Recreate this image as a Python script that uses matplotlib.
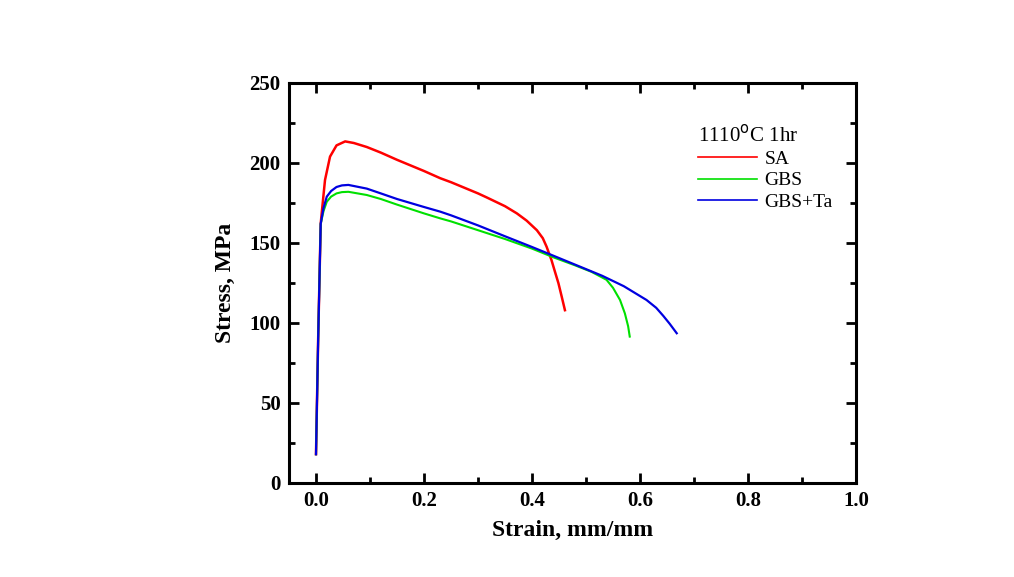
import numpy as np
import matplotlib.pyplot as plt
from matplotlib.ticker import MultipleLocator

# Stress-strain data
sa_strain = [0.0, 0.004, 0.0087, 0.0105, 0.0167, 0.026, 0.038, 0.054, 0.07, 0.094, 0.12,
             0.15, 0.2, 0.23, 0.25, 0.3, 0.316, 0.35, 0.372, 0.39, 0.409, 0.42, 0.427,
             0.436, 0.443, 0.449, 0.455, 0.461]
sa_stress = [18, 90, 162, 168.5, 189.4, 204, 211, 213.5, 212.5, 210, 206.5,
             202, 195, 190.5, 188, 181, 178.5, 173, 168.5, 164, 158, 153, 147.7,
             139.4, 131.5, 124.8, 116.5, 108]

gbs_strain = [0.0, 0.004, 0.0087, 0.014, 0.02, 0.028, 0.038, 0.048, 0.06, 0.094, 0.12, 0.15,
              0.2, 0.23, 0.25, 0.3, 0.35, 0.4, 0.44, 0.48, 0.51, 0.538, 0.55, 0.563,
              0.572, 0.578, 0.581]
gbs_stress = [18, 90, 162, 170, 175.8, 179, 181, 181.8, 182, 180, 177.5, 174,
              168.5, 165.4, 163.5, 158, 152.5, 146.5, 141, 136, 132, 127, 122, 114.4,
              106, 98, 91.5]

gbsta_strain = [0.0, 0.004, 0.0087, 0.014, 0.02, 0.028, 0.038, 0.048, 0.06, 0.094, 0.12, 0.15,
                0.2, 0.23, 0.25, 0.3, 0.35, 0.4, 0.44, 0.476, 0.489, 0.53, 0.57, 0.612,
                0.63, 0.643, 0.655, 0.668]
gbsta_stress = [18, 90, 162, 172, 179, 182.5, 185, 186, 186.3, 184, 181, 177.5,
                172.5, 169.6, 167.3, 161, 154.2, 147.5, 142, 137, 135.2, 129.5, 123, 114.4,
                109.5, 104.5, 99.5, 93.6]

legend_title = '1110$^{\\rm o}$C 1hr'

plt.rcParams['font.family'] = ['Liberation Serif', 'DejaVu Serif']

fig = plt.figure(figsize=(10.14, 5.77), dpi=100)
ax = fig.add_axes([289/1014, 94/577, 567/1014, 400/577])

ax.plot(sa_strain, sa_stress, color='#ff0000', lw=1.8, label='SA')
ax.plot(gbs_strain, gbs_stress, color='#00e000', lw=1.5, label='GBS')
ax.plot(gbsta_strain, gbsta_stress, color='#0000e0', lw=1.6, label='GBS+Ta')

ax.set_xlim(-0.05, 1.0)
ax.set_ylim(0, 250)
ax.xaxis.set_major_locator(MultipleLocator(0.2))
ax.xaxis.set_minor_locator(MultipleLocator(0.1))
ax.yaxis.set_major_locator(MultipleLocator(50))
ax.yaxis.set_minor_locator(MultipleLocator(25))
ax.set_xticks([0.0, 0.2, 0.4, 0.6, 0.8, 1.0])
ax.set_xticklabels(['0.0', '0.2', '0.4', '0.6', '0.8', '1.0'])

ax.tick_params(which='both', direction='in', top=True, right=True, width=2)
ax.tick_params(which='major', length=7, labelsize=15, pad=6)
ax.tick_params(which='minor', length=4)
for lab in ax.get_xticklabels() + ax.get_yticklabels():
    lab.set_fontweight('bold')
for sp in ax.spines.values():
    sp.set_linewidth(2.2)

ax.set_xlabel('Strain, mm/mm', fontsize=17, fontweight='bold', labelpad=6)
ax.set_ylabel('Stress, MPa', fontsize=17, fontweight='bold', labelpad=10)

leg = ax.legend(loc='upper right', bbox_to_anchor=(0.99, 0.94), frameon=False,
                title=legend_title, fontsize=14, title_fontsize=15,
                handlelength=3.0, handletextpad=0.4, labelspacing=0.2,
                alignment='left')
for line in leg.get_lines():
    line.set_linewidth(1.2)

fig.savefig('out.png', dpi=100)
